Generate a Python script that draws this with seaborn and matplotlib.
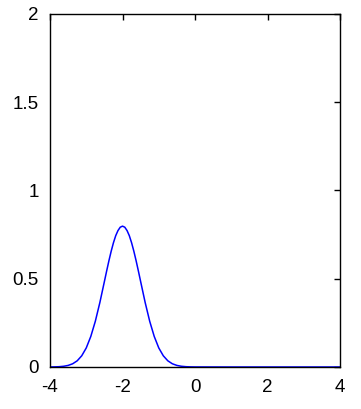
import matplotlib
matplotlib.use("Agg")
import matplotlib.pyplot as plt
import seaborn as sns
import pandas as pd

x_vals = [-4.0, -3.875, -3.75, -3.625, -3.5, -3.375, -3.25, -3.125, -3.0, -2.875, -2.75, -2.625,
          -2.5, -2.4375, -2.375, -2.3125, -2.25, -2.1875, -2.125, -2.0625, -2.0,
          -1.9375, -1.875, -1.8125, -1.75, -1.6875, -1.625, -1.5625, -1.5, -1.375, -1.25, -1.125,
          -1.0, -0.875, -0.75, -0.625, -0.5, -0.375, -0.25, -0.125, 0.0, 1.0, 2.0, 3.0, 4.0]
y_vals = [0.0003, 0.0007, 0.0017, 0.0041, 0.0089, 0.0182, 0.035, 0.0635, 0.108, 0.173, 0.259, 0.365,
          0.484, 0.544, 0.602, 0.656, 0.704, 0.744, 0.773, 0.792, 0.798,
          0.792, 0.773, 0.744, 0.704, 0.656, 0.602, 0.544, 0.484, 0.365, 0.259, 0.173,
          0.108, 0.0635, 0.035, 0.0182, 0.0089, 0.0041, 0.0017, 0.0007, 0.0003, 0.0, 0.0, 0.0, 0.0]
x_ticks = [-4, -2, 0, 2, 4]
y_ticks = [0, 0.5, 1, 1.5, 2]
y_tick_labels = ["0", "0.5", "1", "1.5", "2"]

sns.set_style("white")
plt.rcParams['font.family'] = ['Liberation Sans', 'DejaVu Sans']

df = pd.DataFrame({"x": x_vals, "y": y_vals})
fig = plt.figure(figsize=(3.61, 4.09), dpi=100)
ax = fig.add_axes([0.1385, 0.1027, 0.8035, 0.8631])
sns.lineplot(data=df, x="x", y="y", ax=ax, color="#0000ff", linewidth=1.1)
ax.set_xlim(-4, 4)
ax.set_ylim(0, 2)
ax.set_xticks(x_ticks)
ax.set_xticklabels([str(t) for t in x_ticks])
ax.set_yticks(y_ticks)
ax.set_yticklabels(y_tick_labels)
ax.set_xlabel("")
ax.set_ylabel("")
ax.tick_params(direction="in", length=4, width=1, top=True, right=True, labelsize=13.5,
               colors="black")
ax.tick_params(axis="x", pad=9)
ax.tick_params(axis="y", pad=8)
for s in ax.spines.values():
    s.set_color("black")
    s.set_linewidth(1)
fig.savefig("out.png", dpi=100)
